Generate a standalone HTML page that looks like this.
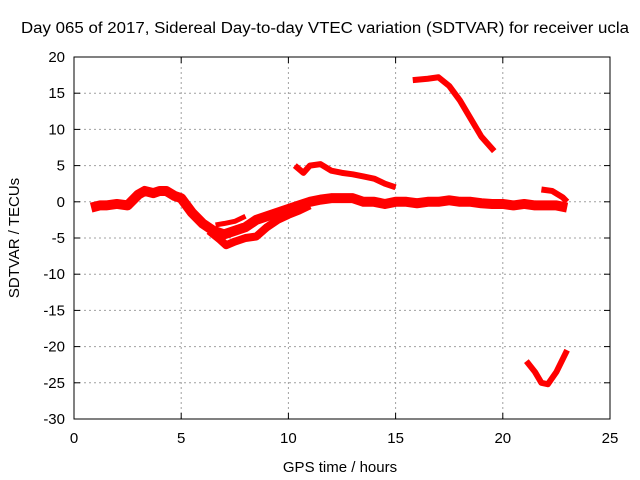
<!DOCTYPE html>
<html><head><meta charset="utf-8"><style>
body{margin:0;background:#fff;}
svg{display:block;font-family:"Liberation Sans",sans-serif;}
</style></head><body>
<svg id="chart" width="640" height="480" viewBox="0 0 640 480">
<text x="325" y="33" font-size="15.5" text-anchor="middle" textLength="608" lengthAdjust="spacingAndGlyphs" fill="#000">Day 065 of 2017, Sidereal Day-to-day VTEC variation (SDTVAR) for receiver ucla</text>
<text x="340" y="472" font-size="15" text-anchor="middle">GPS time / hours</text>
<text transform="translate(19,238) rotate(-90)" font-size="15" text-anchor="middle">SDTVAR / TECUs</text>
<g id="grid"></g>
<g id="ticks"></g>
<g id="series"></g>
<rect x="74" y="57" width="536" height="362" fill="none" stroke="#000" stroke-width="1"/>
</svg>
<script>
const xTicks=[0,5,10,15,20,25];
const yTicks=[-30,-25,-20,-15,-10,-5,0,5,10,15,20];
const mainX=[0.8,1.2,1.5,2,2.5,3,3.3,3.7,4,4.3,4.7,5,5.5,6,6.5,7,7.5,8,8.5,9,9.5,10,10.5,11,11.5,12,12.5,13,13.5,14,14.5,15,15.5,16,16.5,17,17.5,18,18.5,19,19.5,20,20.5,21,21.5,22,22.5,23];
const mainY=[-0.8,-0.5,-0.5,-0.3,-0.5,1,1.5,1.2,1.5,1.5,0.8,0.5,-1.5,-3,-4,-4.5,-4,-3.5,-2.5,-2,-1.5,-1,-0.5,0,0.3,0.5,0.5,0.5,0,0,-0.3,0,0,-0.2,0,0,0.2,0,0,-0.2,-0.3,-0.3,-0.5,-0.3,-0.5,-0.5,-0.5,-0.8];
const dipX=[6.3,6.8,7.1,7.5,8,8.5,9,9.5,10,10.5,11];
const dipY=[-4,-5.2,-6,-5.5,-5,-4.8,-3.5,-2.5,-1.8,-1.2,-0.5];
const branchX=[6.6,7,7.5,8];
const branchY=[-3.2,-3,-2.7,-2];
const bX=[10.3,10.7,11,11.5,12,12.5,13,13.5,14,14.5,15];
const bY=[5,4,5,5.2,4.3,4,3.8,3.5,3.2,2.5,2];
const cX=[15.8,16.5,17,17.5,18,18.5,19,19.6];
const cY=[16.8,17,17.2,16,14,11.5,9,7];
const dX=[21.8,22.3,22.8,23];
const dY=[1.7,1.5,0.6,0];
const eX=[21.1,21.5,21.8,22.1,22.5,23];
const eY=[-22,-23.5,-25,-25.2,-23.5,-20.5];
const X0=74,X1=610,Y0=419,Y1=57;
const sx=v=>X0+(v-0)/(25-0)*(X1-X0);
const sy=v=>Y0-(v+30)/50*(Y0-Y1);
const NS="http://www.w3.org/2000/svg";
const grid=document.getElementById('grid'),ticks=document.getElementById('ticks'),ser=document.getElementById('series');
function mk(t,a,p){const e=document.createElementNS(NS,t);for(const k in a)e.setAttribute(k,a[k]);p.appendChild(e);return e;}
xTicks.forEach(v=>{const x=sx(v);
 if(v>0&&v<25){const g=mk('line',{x1:x,x2:x,y1:Y1,y2:Y0,stroke:'#a0a0a0','stroke-dasharray':'2,3'},grid);
 
 }
 const t=mk('text',{x:x,y:Y0+24,'font-size':15,'text-anchor':'middle'},ticks);t.textContent=v;
 
 
 mk('line',{x1:x,x2:x,y1:Y0,y2:Y0-6,stroke:'#000'},ticks);mk('line',{x1:x,x2:x,y1:Y1,y2:Y1+6,stroke:'#000'},ticks);});
yTicks.forEach(v=>{const y=sy(v);
 if(v>-30&&v<20){const g=mk('line',{x1:X0,x2:X1,y1:y,y2:y,stroke:'#a0a0a0','stroke-dasharray':'2,3'},grid);
 
 }
 const t=mk('text',{x:X0-9,y:y+5,'font-size':15,'text-anchor':'end'},ticks);t.textContent=v;
 
 
 mk('line',{x1:X0,x2:X0+6,y1:y,y2:y,stroke:'#000'},ticks);mk('line',{x1:X1,x2:X1-6,y1:y,y2:y,stroke:'#000'},ticks);});
function draw(xs,ys,name,w){const pts=xs.map((x,i)=>sx(x)+','+sy(ys[i])).join(' ');
 const p=mk('polyline',{points:pts,fill:'none',stroke:'#ff0000','stroke-width':w,'stroke-linejoin':'round','stroke-linecap':'butt'},ser);
 
 }
draw(mainX,mainY,'series-main',10);
draw(dipX,dipY,'series-dip',8);
draw(branchX,branchY,'series-branch',5);
draw(bX,bY,'series-b',6);
draw(cX,cY,'series-c',6);
draw(dX,dY,'series-d',6);
draw(eX,eY,'series-e',6);
</script>
</body></html>
